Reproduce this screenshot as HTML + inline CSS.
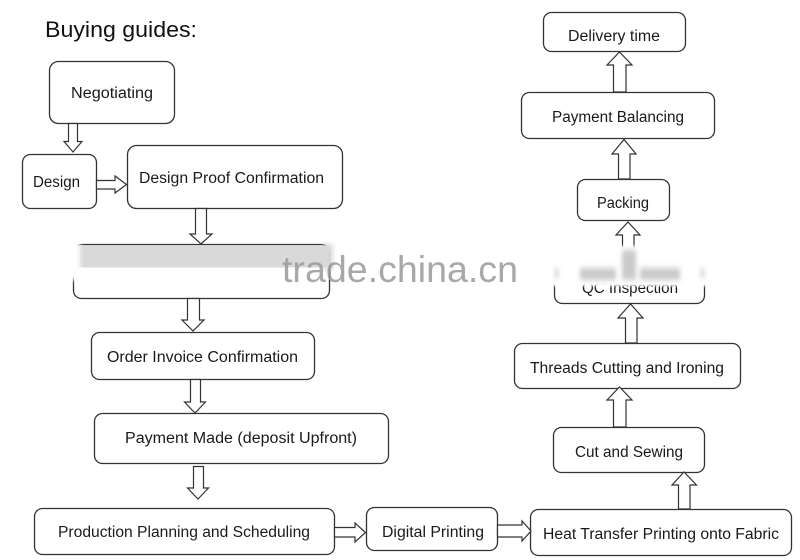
<!DOCTYPE html>
<html><head><meta charset="utf-8"><style>
html,body{margin:0;padding:0;background:#fff;width:800px;height:560px;overflow:hidden}
svg{display:block}
text{font-family:"Liberation Sans",Arial,sans-serif;fill:#1a1a1a}
</style></head><body>
<svg width="800" height="560" viewBox="0 0 800 560" xmlns="http://www.w3.org/2000/svg">
<defs>
<filter id="bl" x="-50%" y="-50%" width="200%" height="200%"><feGaussianBlur stdDeviation="2.5"/></filter>
<filter id="bs" x="-50%" y="-50%" width="200%" height="200%"><feGaussianBlur stdDeviation="1.2"/></filter>
<filter id="bv" x="-50%" y="-50%" width="200%" height="200%"><feGaussianBlur stdDeviation="2 3"/></filter>
</defs>
<rect width="800" height="560" fill="#fff"/>
<text x="45" y="37" font-size="22" textLength="152" lengthAdjust="spacingAndGlyphs" style="fill:#111">Buying guides:</text>

<g fill="#fff" stroke="#333" stroke-width="1.3">
<rect x="49.5" y="61.5" width="125" height="62" rx="9"/>
<rect x="22.5" y="154.5" width="74" height="54" rx="8"/>
<rect x="127.5" y="145.5" width="215" height="63" rx="9"/>
<rect x="73.5" y="244.5" width="256" height="54" rx="8"/>
<rect x="91.5" y="332.5" width="223" height="47" rx="8"/>
<rect x="94.5" y="413.5" width="294" height="50" rx="8"/>
<rect x="34.5" y="508.5" width="300" height="46" rx="8"/>
<rect x="366.5" y="507.5" width="131" height="43" rx="8"/>
<rect x="530.5" y="509.5" width="261" height="46" rx="8"/>
<rect x="553.5" y="427.5" width="151" height="45" rx="8"/>
<rect x="514.5" y="343.5" width="226" height="45" rx="8"/>
<rect x="554.5" y="264.5" width="150" height="39" rx="8"/>
<rect x="577.5" y="179.5" width="92" height="41" rx="8"/>
<rect x="521.5" y="92.5" width="193" height="46" rx="8"/>
<rect x="543.5" y="12.5" width="142" height="39" rx="8"/>
</g>

<g fill="#fff" stroke="#333" stroke-width="1.2" stroke-linejoin="miter">
<polygon points="68.5,123.5 77.5,123.5 77.5,141.5 82,141.5 73,152 64,141.5 68.5,141.5"/>
<polygon points="195.5,208.5 206.5,208.5 206.5,234 212,234 201,244 190,234 195.5,234"/>
<polygon points="187.5,298.5 199.5,298.5 199.5,320 204,320 193,331 182,320 187.5,320"/>
<polygon points="190.5,379.5 200.5,379.5 200.5,402 205.5,402 195,413 184.5,402 190.5,402"/>
<polygon points="193.5,466.5 203.5,466.5 203.5,488 208.5,488 198,499 187.5,488 193.5,488"/>
<polygon points="96.5,180.5 115,180.5 115,176 126.5,184.5 115,193 115,189 96.5,189"/>
<polygon points="334.5,527.5 355,527.5 355,523 365.5,532.5 355,542 355,537 334.5,537"/>
<polygon points="497.5,525 522,525 522,521 531,531 522,541 522,537 497.5,537"/>
<polygon points="678.5,509 690,509 690,485 696.5,485 684,472 672,485 678.5,485"/>
<polygon points="613.5,427 626,427 626,400 632,400 619.5,387 607,400 613.5,400"/>
<polygon points="625.5,343 637,343 637,318 643,318 630.5,304 618,318 625.5,318"/>
<polygon points="622.5,264 634,264 634,235 640,235 628,222 616,235 622.5,235"/>
<polygon points="618.5,179 630,179 630,154 636,154 624,139.5 612,154 618.5,154"/>
<polygon points="613.5,92 626,92 626,65 632,65 619.5,52 607,65 613.5,65"/>
</g>

<rect x="74" y="245.5" width="255" height="22" fill="#d9d9d9"/>
<rect x="64" y="238" width="16" height="42" fill="#fff" filter="url(#bl)"/>
<rect x="323" y="244" width="10" height="26" fill="#d9d9d9" filter="url(#bl)"/>

<g font-size="15.5">
<text x="71" y="98" textLength="82" lengthAdjust="spacingAndGlyphs">Negotiating</text>
<text x="33" y="187" textLength="47" lengthAdjust="spacingAndGlyphs">Design</text>
<text x="139" y="183" textLength="185" lengthAdjust="spacingAndGlyphs">Design Proof Confirmation</text>
<text x="107" y="362" textLength="191" lengthAdjust="spacingAndGlyphs">Order Invoice Confirmation</text>
<text x="125" y="443" textLength="232" lengthAdjust="spacingAndGlyphs">Payment Made (deposit Upfront)</text>
<text x="58" y="537" textLength="252" lengthAdjust="spacingAndGlyphs">Production Planning and Scheduling</text>
<text x="382" y="537" textLength="102" lengthAdjust="spacingAndGlyphs">Digital Printing</text>
<text x="543" y="539" textLength="236" lengthAdjust="spacingAndGlyphs">Heat Transfer Printing onto Fabric</text>
<text x="575" y="457" textLength="108" lengthAdjust="spacingAndGlyphs">Cut and Sewing</text>
<text x="530" y="373" textLength="194" lengthAdjust="spacingAndGlyphs">Threads Cutting and Ironing</text>
<text x="582" y="293" textLength="96" lengthAdjust="spacingAndGlyphs">QC Inspection</text>
<text x="597" y="208" textLength="52" lengthAdjust="spacingAndGlyphs">Packing</text>
<text x="552" y="122" textLength="132" lengthAdjust="spacingAndGlyphs">Payment Balancing</text>
<text x="568" y="41" textLength="92" lengthAdjust="spacingAndGlyphs">Delivery time</text>
</g>

<!-- blur over QC -->
<rect x="546" y="246" width="170" height="40" fill="#fff" filter="url(#bs)"/>
<g fill="#c4c4c4" filter="url(#bv)" opacity="0.9">
<rect x="555" y="268" width="3" height="10"/>
<rect x="580" y="268" width="36" height="12"/>
<rect x="622" y="250" width="14" height="30"/>
<rect x="640" y="268" width="40" height="12"/>
<rect x="701" y="268" width="3" height="10"/>
</g>

<text x="282" y="282" font-size="37.5" textLength="236" lengthAdjust="spacingAndGlyphs" style="fill:#9a9a9a;opacity:0.85">trade.china.cn</text>
</svg>
</body></html>
